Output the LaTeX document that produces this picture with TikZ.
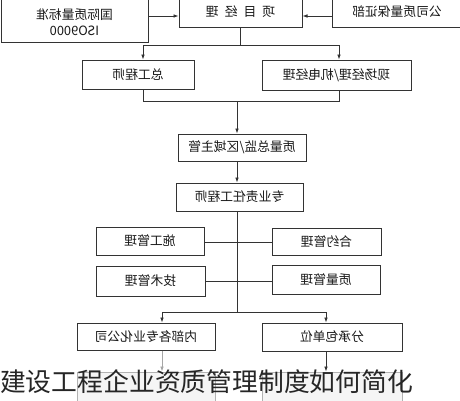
\documentclass[tikz,border=0pt]{standalone}
\usepackage{fontspec}
\usepackage{graphicx}
\newfontfamily\cjk{Noto Sans CJK SC}
\usetikzlibrary{arrows.meta}
\begin{document}
\begin{tikzpicture}[x=1pt,y=-1pt,
  box/.style={draw=black!80,line width=1pt,fill=white,inner sep=0pt,
    font=\cjk\fontsize{12.8}{14}\selectfont,text=black!90},
  faintbox/.style={draw=black!30,line width=1pt,fill=black!4,inner sep=0pt},
  lbl/.style={inner sep=0pt,font=\cjk\fontsize{12.8}{18}\selectfont,text=black!90},
  ln/.style={draw=black!80,line width=0.8pt},
  arr/.style={ln,-{Latex[length=5pt,width=3.6pt]}},
  farr/.style={draw=black!35,line width=0.8pt,-{Latex[length=5pt,width=3.6pt]}}
]
\useasboundingbox (0,0) rectangle (460,400);
\clip (0,0) rectangle (460,400);
\fill[white] (0,0) rectangle (460,400);

% top row
\node[box,minimum width=147pt,minimum height=46pt] (iso) at (74.5,19.5) {};
\node[lbl,align=center] (isotxt) at (74.5,24) {\reflectbox{\begin{tabular}{@{}c@{}}国际质量标准\\[-2pt]ISO9000\end{tabular}}};
\node[box,minimum width=123pt,minimum height=31pt] (pm) at (240.5,11.5) {\reflectbox{项\hspace{6pt}目\hspace{6pt}经\hspace{6pt}理}};
\node[box,minimum width=130pt,minimum height=31pt] (qa) at (397,11.5) {\reflectbox{公司质量保证部}};

% second row
\node[box,minimum width=112pt,minimum height=29pt] (chief) at (138,74.5) {\reflectbox{总工程师}};
\node[box,minimum width=149pt,minimum height=30pt] (site) at (336.5,75) {\reflectbox{现场经理/机电经理}};

% center column
\node[box,minimum width=128pt,minimum height=27pt] (dir) at (242,147.5) {\reflectbox{质量总监/区域主管}};
\node[box,minimum width=127pt,minimum height=28pt] (eng) at (239.5,197) {\reflectbox{专业责任工程师}};

% management boxes
\node[box,minimum width=108pt,minimum height=28pt] (con) at (150,241) {\reflectbox{施工管理}};
\node[box,minimum width=109pt,minimum height=27pt] (ctr) at (326.5,241.5) {\reflectbox{合约管理}};
\node[box,minimum width=109pt,minimum height=30pt] (tech) at (150.5,281) {\reflectbox{技术管理}};
\node[box,minimum width=108pt,minimum height=29pt] (qual) at (326,279.5) {\reflectbox{质量管理}};

% lower boxes
\node[box,minimum width=138pt,minimum height=27pt] (inner) at (146,336.5) {\reflectbox{内部各专业化公司}};
\node[box,minimum width=140pt,minimum height=28pt] (sub) at (332,337) {\reflectbox{分承包单位}};
\node[faintbox,minimum width=138pt,minimum height=30pt] (innerb) at (146,387) {};
\node[faintbox,minimum width=140pt,minimum height=30pt] (subb) at (332,387) {};

% connectors top
\draw[arr] (iso.east |- 0,16) -- (pm.west |- 0,16);
\draw[arr] (qa.west |- 0,16) -- (pm.east |- 0,16);
\coordinate (j1) at (240.5,45);
\draw[ln] (pm.south) -- (j1);
\draw[arr] (j1) -| (143,0 |- chief.north);
\draw[arr] (j1) -| (339,0 |- site.north);

% join to director
\coordinate (j2) at (237,101);
\draw[ln] (143,0 |- chief.south) |- (j2);
\draw[ln] (339,0 |- site.south) |- (j2);
\draw[arr] (j2) -- (237,0 |- dir.north);
\draw[arr] (237,0 |- dir.south) -- (237,0 |- eng.north);

% spine
\coordinate (j3) at (237,312);
\draw[ln] (237,0 |- eng.south) -- (j3);
\draw[ln] (con.east |- 0,242) -- (ctr.west |- 0,242);
\draw[ln] (tech.east |- 0,281) -- (qual.west |- 0,281);
\draw[arr] (j3) -| (162,0 |- inner.north);
\draw[arr] (j3) -| (326,0 |- sub.north);

% to bottom boxes
\draw[farr] (162,0 |- inner.south) -- (162,0 |- innerb.north);
\draw[arr] (326,0 |- sub.south) -- (326,0 |- subb.north);

% overlay caption
\node[anchor=base west,inner sep=0pt,font=\cjk\fontsize{25.8}{26}\selectfont,text=black!85] (cap) at (0,391) {建设工程企业资质管理制度如何简化};
\end{tikzpicture}
\end{document}
